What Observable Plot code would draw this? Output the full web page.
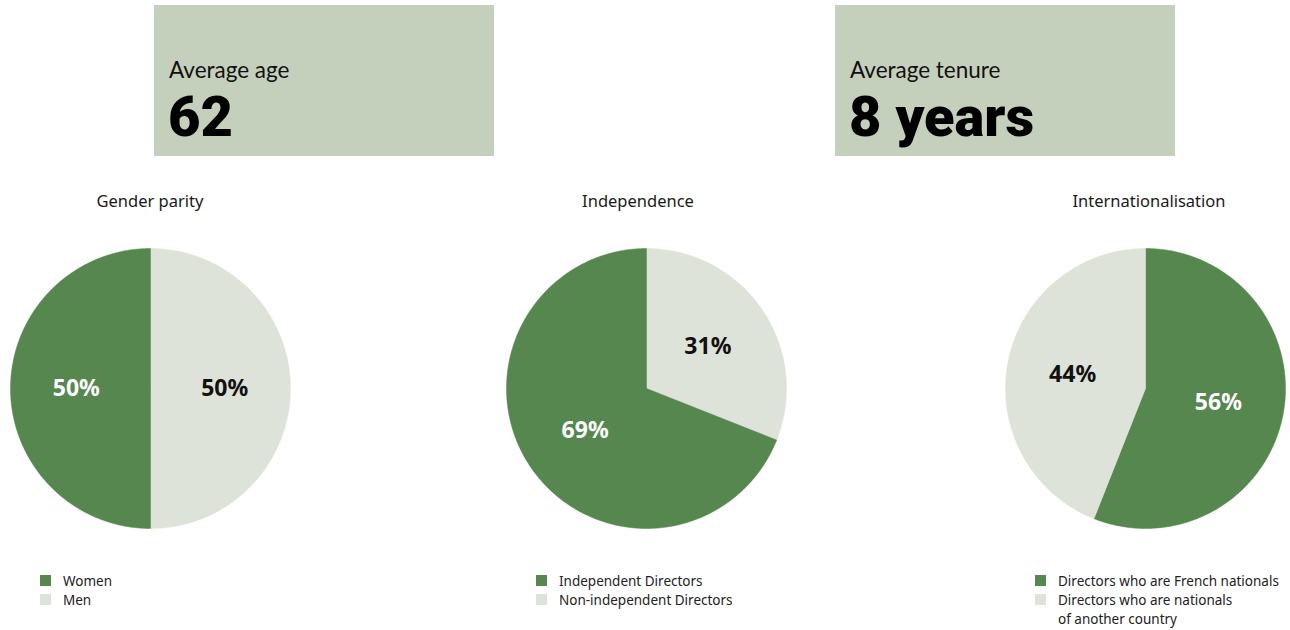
<!DOCTYPE html>
<html>
<head>
<meta charset="utf-8">
<script src="https://cdn.jsdelivr.net/npm/d3@7"></script>
<script src="https://cdn.jsdelivr.net/npm/@observablehq/plot@0.6"></script>
<style>
  html, body { margin: 0; padding: 0; background: #fff; }
  body { width: 1290px; height: 630px; position: relative; overflow: hidden; font-family: "Noto Sans", "Open Sans", sans-serif; color: #111; }
  .stat { position: absolute; top: 5px; width: 340px; height: 151px; background: #c5d0bc; }
  .stat .lbl { position: absolute; left: 15px; top: 51px; font-family: Lato, "Noto Sans", sans-serif; font-size: 22.5px; line-height: normal; color: #111; white-space: nowrap; }
  .stat .val { position: absolute; left: 14px; top: 79px; font-family: Roboto, "Noto Sans", sans-serif; font-size: 56px; font-weight: 900; line-height: normal; color: #000; white-space: nowrap; }
  .title { position: absolute; top: 189px; width: 300px; text-align: center; font-size: 16.5px; color: #1a1a1a; }
  .pie { position: absolute; top: 238px; width: 300px; height: 300px; }
  .legend { position: absolute; top: 572px; font-size: 13.5px; color: #222; line-height: 19px; }
  .legend .item { position: relative; padding-left: 23px; }
  .legend .sw { position: absolute; left: 0; top: 3px; width: 11px; height: 11px; }
</style>
</head>
<body>
<script>
// ---- data ----
const statLabels = ["Average age", "Average tenure"];
const statValues = ["62", "8 years"];

const chartTitles = ["Gender parity", "Independence", "Internationalisation"];

const genderCategories = ["Women", "Men"];
const genderValues = [50, 50];
const genderOrder = ["Men", "Women"];

const independenceCategories = ["Independent Directors", "Non-independent Directors"];
const independenceValues = [69, 31];
const independenceOrder = ["Non-independent Directors", "Independent Directors"];

const internationalCategories = ["Directors who are French nationals", "Directors who are nationals\nof another country"];
const internationalValues = [56, 44];
const internationalOrder = ["Directors who are French nationals", "Directors who are nationals\nof another country"];

const tones = ["dark", "light"]; // first category dark, second light
const toneColors = ["#55874f", "#dee3d9"];
const labelColors = ["#ffffff", "#111111"];

// ---- layout (pixel placement of each panel) ----
const statLefts = [154, 835];
const pieCenters = [150, 646, 1145];
const legendLefts = [40, 536, 1035];
const titleCenters = [150, 638, 1149];

statLabels.forEach((l, i) => {
  const d = document.createElement("div");
  d.className = "stat";
  d.style.left = statLefts[i] + "px";
  d.innerHTML = `<div class="lbl"></div><div class="val"></div>`;
  d.querySelector(".lbl").textContent = l;
  d.querySelector(".val").textContent = statValues[i];
  document.body.appendChild(d);
});

const charts = [
  {cats: genderCategories, vals: genderValues, order: genderOrder},
  {cats: independenceCategories, vals: independenceValues, order: independenceOrder},
  {cats: internationalCategories, vals: internationalValues, order: internationalOrder}
];

const R = 140, half = 150, k = half / R;

charts.forEach((c, ci) => {
  // title
  const t = document.createElement("div");
  t.className = "title";
  t.style.left = (titleCenters[ci] - 150) + "px";
  t.textContent = chartTitles[ci];
  document.body.appendChild(t);

  // slices
  const rows = c.order.map(name => {
    const idx = c.cats.indexOf(name);
    return {name, value: c.vals[idx], tone: tones[idx], labelColor: labelColors[idx]};
  });
  const arcs = d3.pie().sort(null).value(d => d.value)(rows);
  const pts = [];
  const labels = [];
  arcs.forEach(a => {
    const n = Math.max(2, Math.ceil((a.endAngle - a.startAngle) / (Math.PI / 360)));
    pts.push({slice: a.data.name, tone: a.data.tone, x: 0, y: 0});
    for (let j = 0; j <= n; j++) {
      const ang = a.startAngle + (a.endAngle - a.startAngle) * j / n;
      pts.push({slice: a.data.name, tone: a.data.tone, x: Math.sin(ang), y: Math.cos(ang)});
    }
    pts.push({slice: a.data.name, tone: a.data.tone, x: 0, y: 0});
    const mid = (a.startAngle + a.endAngle) / 2;
    labels.push({x: 0.53 * Math.sin(mid), y: 0.53 * Math.cos(mid), text: a.data.value + "%", color: a.data.labelColor});
  });

  const plot = Plot.plot({
    width: 2 * half, height: 2 * half,
    margin: 0,
    x: {domain: [-k, k], axis: null},
    y: {domain: [-k, k], axis: null},
    color: {domain: tones, range: toneColors},
    marks: [
      Plot.line(pts, {x: "x", y: "y", z: "slice", fill: "tone", stroke: "tone", strokeWidth: 0.5, curve: "linear"}),
      Plot.text(labels, {x: "x", y: "y", text: "text", fill: d => d.color, fontSize: 23, fontWeight: 700, fontFamily: "Noto Sans"})
    ]
  });
  const wrap = document.createElement("div");
  wrap.className = "pie";
  wrap.style.left = (pieCenters[ci] - half) + "px";
  wrap.appendChild(plot);
  document.body.appendChild(wrap);

  // legend
  const lg = document.createElement("div");
  lg.className = "legend";
  lg.style.left = legendLefts[ci] + "px";
  c.cats.forEach((name, i) => {
    const it = document.createElement("div");
    it.className = "item";
    const sw = document.createElement("span");
    sw.className = "sw";
    sw.style.background = toneColors[i];
    it.appendChild(sw);
    name.split("\n").forEach((line, li) => {
      if (li > 0) it.appendChild(document.createElement("br"));
      it.appendChild(document.createTextNode(line));
    });
    lg.appendChild(it);
  });
  document.body.appendChild(lg);
});
</script>
</body>
</html>
